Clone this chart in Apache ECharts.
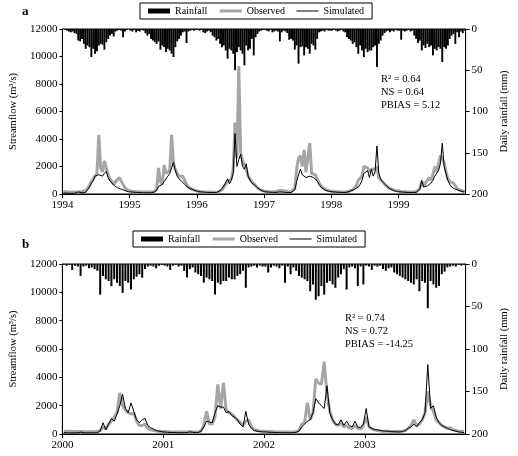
<!DOCTYPE html>
<html>
<head>
<meta charset="utf-8">
<script src="https://cdn.jsdelivr.net/npm/echarts@6/dist/echarts.min.js"></script>
<style>
  html, body { margin: 0; padding: 0; background: #fff; }
  #chart { width: 518px; height: 456px; }
</style>
</head>
<body>
<div id="chart"></div>
<script>
// dekadal values (36 per year): streamflow in m3/s, rainfall in mm

// panel a, 1994-1999
const obs1994 = [180,170,160,150,150,140,140,140,150,160,180,200,250,350,600,900,1100,1300,1500,4300,1900,1600,2400,1900,1400,1100,900,700,900,1050,1200,1150,700,450,300,230];
const sim1994 = [70,60,60,50,50,50,50,60,150,100,80,80,120,250,500,800,950,1300,1400,1400,1350,1300,1500,1650,1200,950,800,650,550,450,400,350,300,250,200,160];
const obs1995 = [220,200,190,180,170,160,150,150,150,140,140,140,150,160,300,1900,900,700,2100,1500,1400,1700,4300,2200,1800,1500,1300,1200,1300,1000,700,500,400,350,300,250];
const sim1995 = [150,140,130,120,110,100,100,90,90,90,90,90,100,150,300,550,600,700,900,1000,1300,1500,1900,2300,1700,1300,1100,1000,850,700,550,450,380,320,280,250];
const obs1996 = [200,180,170,160,150,150,140,140,130,130,130,140,200,300,500,700,900,800,1100,1800,5200,2600,9300,3000,2400,2300,1800,1300,1100,900,800,600,450,350,280,230];
const sim1996 = [180,160,150,140,130,120,110,110,100,100,100,120,250,400,600,700,1100,750,1000,1500,4400,2000,2500,2900,2000,1800,2200,1300,1000,800,900,600,450,330,260,200];
const obs1997 = [200,190,180,170,170,170,180,220,260,250,230,200,180,170,170,180,400,1800,2600,2800,2000,3200,1600,1500,3700,1500,1400,1400,1100,800,600,450,350,300,250,220];
const sim1997 = [160,150,140,130,120,120,120,130,150,140,130,120,110,110,110,120,300,900,1400,1800,1400,1300,1200,1250,1300,1300,1200,1200,950,700,500,400,300,250,200,170];
const obs1998 = [200,190,180,170,160,150,150,150,160,200,250,300,400,600,1000,900,1300,2000,1900,1900,1600,1800,1700,1800,2000,1200,1000,900,750,600,480,400,350,300,260,230];
const sim1998 = [160,150,140,130,120,110,110,110,130,180,220,280,350,450,500,700,1000,1500,1600,1700,1200,1800,1300,1600,3500,1500,1100,900,750,600,480,380,300,250,200,170];
const obs1999 = [200,190,180,170,160,150,150,150,150,160,200,400,900,600,700,1000,1200,1000,1400,2000,1600,2200,2800,2700,2300,1600,1100,900,800,800,600,400,300,250,200,180];
const sim1999 = [160,150,140,130,120,110,110,110,110,120,150,350,1000,500,500,600,700,800,1000,1300,1400,1700,2200,3700,2000,1500,1000,700,500,450,350,300,250,200,170,150];

const rain1994 = [0,1,2,3,4,3,5,6,14,15,12,18,24,20,22,34,24,30,27,20,18,19,25,16,12,8,6,9,3,2,1,2,10,3,1,0];
const rain1995 = [2,3,1,4,2,3,1,2,5,8,6,12,14,16,18,15,25,20,22,28,24,26,30,34,22,15,12,8,4,3,17,3,2,1,2,1];
const rain1996 = [1,2,1,4,5,3,2,4,8,10,14,12,18,22,20,26,36,24,26,30,50,28,22,26,30,44,20,26,24,12,32,10,6,3,2,1];
const rain1997 = [1,2,3,1,4,3,2,3,15,4,2,3,5,13,12,14,25,20,42,22,21,32,22,24,30,18,20,25,12,4,3,2,3,1,2,2];
const rain1998 = [2,1,2,3,2,1,3,4,10,12,14,18,16,22,30,20,26,34,24,28,26,26,22,20,46,18,14,8,5,3,2,4,2,3,1,2];
const rain1999 = [2,13,2,3,2,1,3,2,8,12,17,14,26,20,23,18,22,20,32,24,26,22,24,40,22,24,20,12,8,6,18,4,10,3,5,2];

// panel b, 2000-2003
const obs2000 = [200,200,190,180,170,170,180,170,160,160,160,160,170,250,500,350,700,900,1200,1500,2900,2000,1700,1500,1400,1500,900,600,600,700,400,300,250,220,200,180];
const sim2000 = [100,90,80,80,80,80,130,90,80,80,80,80,90,200,800,300,700,1100,900,1400,2000,2800,1800,1500,2200,1600,1000,800,1000,1100,600,450,350,250,200,160];
const obs2001 = [170,160,150,150,140,140,140,140,140,170,150,140,140,200,600,1600,700,700,1200,3500,1800,3600,1700,1500,1400,1200,1000,800,600,900,1000,500,300,250,220,200];
const sim2001 = [140,120,110,100,100,90,90,90,100,150,120,100,100,200,500,900,850,800,1500,2000,1900,1900,1500,1600,1300,1200,1000,700,500,1600,700,400,250,200,170,150];
const obs2002 = [200,180,170,160,150,150,140,140,140,140,150,160,250,700,800,2200,1000,1500,3900,3600,3500,5100,2800,1600,1000,700,600,800,500,600,400,400,600,400,350,600];
const sim2002 = [150,130,120,110,100,100,90,90,90,90,100,120,200,500,700,900,1000,1500,2500,2200,2000,1800,3400,1500,1000,700,650,1000,600,900,600,500,900,500,450,700];
const obs2003 = [1200,500,350,300,250,220,200,200,190,180,180,180,180,200,250,400,600,1000,600,700,1000,1500,3000,2000,1600,1000,800,600,500,400,450,300,250,200,200,200];
const sim2003 = [1800,500,400,300,300,250,220,200,190,170,160,150,150,180,250,400,500,700,500,800,1000,1500,4900,1800,2000,1200,800,600,500,400,300,250,200,150,120,100];

const rain2000 = [1,2,1,7,2,3,14,3,2,5,4,6,8,36,14,18,20,26,18,22,26,34,20,22,30,18,15,12,16,6,3,2,3,5,2,1];
const rain2001 = [2,3,7,2,1,3,2,8,16,6,4,10,12,14,22,16,18,20,36,22,24,20,20,16,18,18,14,12,8,28,4,3,2,4,2,3];
const rain2002 = [3,10,4,2,3,5,2,22,3,12,4,8,14,16,18,20,32,24,42,38,26,36,22,20,24,28,16,12,6,30,4,3,5,26,3,24];
const rain2003 = [2,3,7,2,3,2,6,8,5,4,10,12,14,16,18,20,22,24,18,32,20,22,52,20,24,28,26,12,9,4,3,2,3,1,2,1];

const statsA = ['R\u00b2 = 0.64', 'NS = 0.64', 'PBIAS = 5.12'];
const statsB = ['R\u00b2 = 0.74', 'NS = 0.72', 'PBIAS = -14.25'];

// place each dekad at its mid point on a decimal-year axis
function toPoints(startYear, yearArrays) {
  return yearArrays.flatMap((arr, y) => arr.map((v, k) => [startYear + y + (k + 0.5) / 36, v]));
}

const FONT = 'Liberation Serif';
const GRAY = '#a5a5a5';

const chart = echarts.init(document.getElementById('chart'));

function xAxisFor(gridIndex, min, max) {
  return {
    gridIndex, type: 'value', min, max, interval: 1,
    axisLine: { lineStyle: { color: '#000', width: 1 } },
    axisTick: { inside: false, length: 4, lineStyle: { color: '#000' } },
    axisLabel: { color: '#000', fontFamily: FONT, fontSize: 11, showMaxLabel: false, margin: 6, formatter: v => String(v) },
    splitLine: { show: false }
  };
}

function flowAxis(gridIndex) {
  return {
    gridIndex, type: 'value', min: 0, max: 12000, interval: 2000, position: 'left',
    name: 'Streamflow (m\u00b3/s)', nameLocation: 'middle', nameGap: 37, nameRotate: 90,
    nameTextStyle: { color: '#000', fontFamily: FONT, fontSize: 10.5 },
    axisLine: { show: true, lineStyle: { color: '#000' } },
    axisTick: { show: true, length: 3, lineStyle: { color: '#000' } },
    axisLabel: { color: '#000', fontFamily: FONT, fontSize: 11, margin: 5, formatter: v => String(v) },
    splitLine: { show: false }
  };
}

function rainAxis(gridIndex) {
  return {
    gridIndex, type: 'value', min: 0, max: 200, interval: 50, position: 'right', inverse: true,
    name: 'Daily rainfall (mm)', nameLocation: 'middle', nameGap: 32, nameRotate: 90,
    nameTextStyle: { color: '#000', fontFamily: FONT, fontSize: 10.5 },
    axisLine: { show: true, lineStyle: { color: '#000' } },
    axisTick: { show: true, length: 4, lineStyle: { color: '#000' } },
    axisLabel: { color: '#000', fontFamily: FONT, fontSize: 11, margin: 6, formatter: v => String(v) },
    splitLine: { show: false }
  };
}

function panelSeries(idx, rain, obs, sim, barW) {
  return [
    { name: 'Rainfall', type: 'bar', xAxisIndex: idx, yAxisIndex: idx * 2 + 1, data: rain, barWidth: barW,
      itemStyle: { color: '#000' }, animation: false },
    { name: 'Observed', type: 'line', xAxisIndex: idx, yAxisIndex: idx * 2, data: obs, symbol: 'none',
      lineStyle: { color: GRAY, width: 3 }, itemStyle: { color: GRAY }, animation: false },
    { name: 'Simulated', type: 'line', xAxisIndex: idx, yAxisIndex: idx * 2, data: sim, symbol: 'none',
      lineStyle: { color: '#000', width: 1 }, itemStyle: { color: '#000' }, animation: false }
  ];
}

function legendAt(left, top) {
  return {
    left, top, orient: 'horizontal',
    data: [
      { name: 'Rainfall', icon: 'rect' },
      { name: 'Observed', itemStyle: { opacity: 0 }, lineStyle: { width: 3, color: GRAY } },
      { name: 'Simulated', itemStyle: { opacity: 0 }, lineStyle: { width: 1, color: '#000' } }
    ],
    itemWidth: 22, itemHeight: 5, itemGap: 11,
    padding: [3, 8], borderColor: '#000', borderWidth: 1,
    textStyle: { color: '#000', fontFamily: FONT, fontSize: 10 },
    selectedMode: false
  };
}

function statText(lines, left, top) {
  return lines.map((t, i) => ({
    type: 'text', left, top: top + i * 13,
    style: { text: t, fill: '#000', font: '10.5px "' + FONT + '"' }
  }));
}

const option = {
  backgroundColor: '#fff',
  grid: [
    { left: 50, right: 49, top: 29, height: 165, show: true, borderColor: '#000', borderWidth: 1 },
    { left: 50, right: 49, top: 264, height: 170, show: true, borderColor: '#000', borderWidth: 1 }
  ],
  legend: [legendAt(140, 3), legendAt(133, 231)],
  xAxis: [xAxisFor(0, 1994, 2000), xAxisFor(1, 2000, 2004)],
  yAxis: [flowAxis(0), rainAxis(0), flowAxis(1), rainAxis(1)],
  series: [
    ...panelSeries(0,
      toPoints(1994, [rain1994, rain1995, rain1996, rain1997, rain1998, rain1999]),
      toPoints(1994, [obs1994, obs1995, obs1996, obs1997, obs1998, obs1999]),
      toPoints(1994, [sim1994, sim1995, sim1996, sim1997, sim1998, sim1999]), 1.9),
    ...panelSeries(1,
      toPoints(2000, [rain2000, rain2001, rain2002, rain2003]),
      toPoints(2000, [obs2000, obs2001, obs2002, obs2003]),
      toPoints(2000, [sim2000, sim2001, sim2002, sim2003]), 2)
  ],
  graphic: [
    { type: 'text', left: 22, top: 5, style: { text: 'a', fill: '#000', font: 'bold 13px "' + FONT + '"' } },
    { type: 'text', left: 22, top: 238, style: { text: 'b', fill: '#000', font: 'bold 13px "' + FONT + '"' } },
    ...statText(statsA, 381, 74),
    ...statText(statsB, 345, 313)
  ]
};

chart.setOption(option);
</script>
</body>
</html>
